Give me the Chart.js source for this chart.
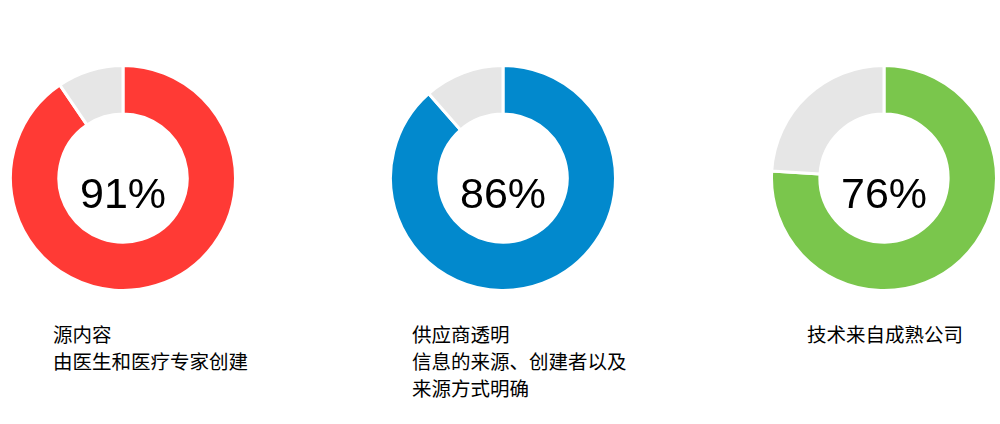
<!DOCTYPE html>
<html>
<head>
<meta charset="utf-8">
<script src="https://cdn.jsdelivr.net/npm/chart.js@4"></script>
<style>
  html, body { margin: 0; padding: 0; background: #fff; }
  body { width: 1000px; height: 424px; position: relative; overflow: hidden; }
  .ring { position: absolute; width: 228px; height: 228px; }
  .caption {
    position: absolute;
    font-family: "Noto Sans CJK SC", sans-serif;
    font-size: 19.5px;
    font-weight: 400;
    line-height: 27px;
    color: #000;
    white-space: nowrap;
  }
</style>
</head>
<body>
<div class="ring" style="left:9px;top:64px"><canvas id="ring0"></canvas></div>
<div class="ring" style="left:389px;top:64px"><canvas id="ring1"></canvas></div>
<div class="ring" style="left:770px;top:64px"><canvas id="ring2"></canvas></div>
<div class="caption" id="cap0" style="left:53px;top:320px"></div>
<div class="caption" id="cap1" style="left:412px;top:320px"></div>
<div class="caption" id="cap2" style="left:807px;top:320px"></div>
<script>
// printed numbers in the holes
const percents = [91, 86, 76];
// share of the ring actually coloured in the picture (the arcs don't quite match the labels)
const ringValues = [90.5, 88.5, 76];
const ringColors = ['#ff3a35', '#0289cd', '#7ac64c'];
const restColor = '#e6e6e6';
const captions = [
    ['源内容', '由医生和医疗专家创建'],
    ['供应商透明', '信息的来源、创建者以及', '来源方式明确'],
    ['技术来自成熟公司']
];

// writes the percent in the hole, a bit under the middle like the original
const centerText = {
    id: 'centerText',
    afterDraw(chart, args, opts) {
        const meta = chart.getDatasetMeta(0);
        if (!meta.data.length) return;
        const arc = meta.data[0];
        const ctx = chart.ctx;
        ctx.save();
        ctx.font = '43px "Liberation Sans", Arial, sans-serif';
        ctx.fillStyle = '#000';
        ctx.textAlign = 'center';
        ctx.textBaseline = 'middle';
        ctx.fillText(opts.text, arc.x, arc.y + 18);
        ctx.restore();
    }
};

ringValues.forEach((v, i) => {
    const ctx = document.getElementById('ring' + i).getContext('2d');
    new Chart(ctx, {
        type: 'doughnut',
        data: {
            labels: ['done', 'rest'],
            datasets: [{
                data: [v, 100 - v],
                backgroundColor: [ringColors[i], restColor],
                borderColor: '#fff',
                borderWidth: 3,
                hoverOffset: 0
            }]
        },
        options: {
            responsive: true,
            maintainAspectRatio: false,
            animation: false,
            cutout: '57%',
            layout: { padding: 0 },
            plugins: {
                legend: { display: false },
                tooltip: { enabled: false },
                centerText: { text: percents[i] + '%' }
            }
        },
        plugins: [centerText]
    });

    document.getElementById('cap' + i).innerHTML = captions[i].join('<br>');
});
</script>
</body>
</html>
